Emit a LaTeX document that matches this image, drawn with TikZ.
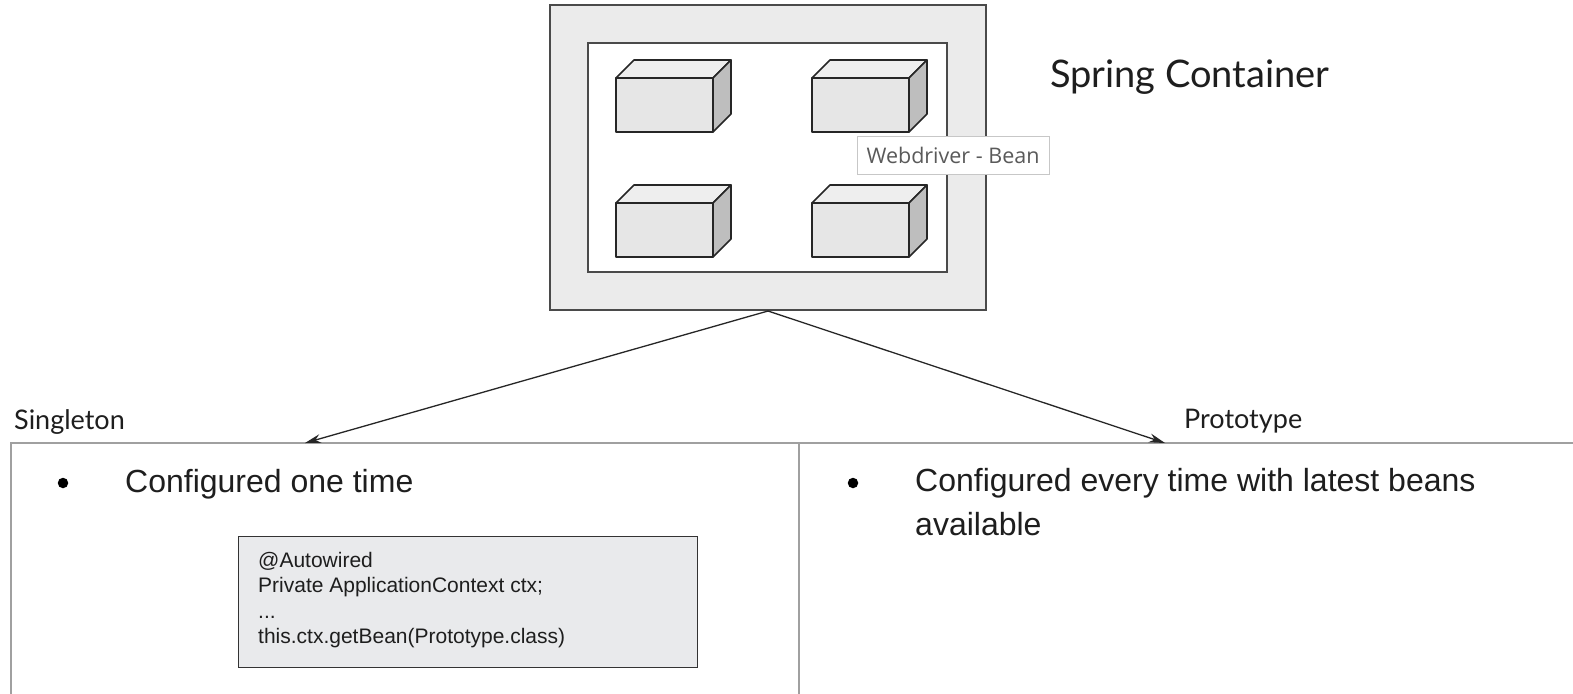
\documentclass[tikz,border=0pt]{standalone}
\usepackage{fontspec}
\setmainfont{Liberation Sans}
\newfontfamily\latofont{Lato}
\newfontfamily\opensansfont{Open Sans}
\usetikzlibrary{arrows.meta}
\definecolor{framegray}{HTML}{4A4A4A}
\definecolor{outerfill}{HTML}{EBEBEB}
\definecolor{cubefront}{HTML}{E6E6E6}
\definecolor{cubetop}{HTML}{EEEEEE}
\definecolor{cubeside}{HTML}{BEBEBE}
\definecolor{codefill}{HTML}{E9EAEC}
\definecolor{panelgray}{HTML}{A0A0A0}
\definecolor{textdark}{HTML}{1E1E1E}
\definecolor{labelgray}{HTML}{5A5A5A}
\newcommand\beancube[2]{%
  \filldraw[cubeedge,fill=cubefront] (#1,#2) rectangle ++(97,54);
  \filldraw[cubeedge,fill=cubetop] (#1,#2) -- ++(18,-18) -- ++(97,0) -- ++(-18,18) -- cycle;
  \filldraw[cubeedge,fill=cubeside] (#1+97,#2) -- ++(18,-18) -- ++(0,54) -- ++(-18,18) -- cycle;
}
\begin{document}
\begin{tikzpicture}[x=1pt,y=-1pt,
  frame/.style={draw=framegray,line width=2pt},
  cubeedge/.style={draw=black!85,line width=1.6pt,line join=round},
  panel/.style={draw=panelgray,line width=1.4pt},
  arrowline/.style={draw=black!85,line width=1.3pt,-{Stealth[length=16pt,width=9pt]}},
  lbl/.style={inner sep=0pt,anchor=base west,text=textdark},
  bullet/.style={circle,fill=black,inner sep=0pt,minimum size=10.5pt}
]
\useasboundingbox (0,0) rectangle (1573,693);
\fill[white] (0,0) rectangle (1573,693);

% container
\node[frame,fill=outerfill,minimum width=436pt,minimum height=305pt,inner sep=0pt] (container) at (768,157.5) {};
\node[frame,fill=white,minimum width=359pt,minimum height=229pt,inner sep=0pt] (inner) at (767.5,157.5) {};

\beancube{616}{78}
\beancube{812}{78}
\beancube{616}{203}
\beancube{812}{203}

\node[draw=black!22,line width=0.8pt,fill=white,minimum width=192pt,minimum height=38pt,inner sep=0pt,
  text=labelgray,font=\opensansfont\fontsize{21.5}{23}\selectfont] (webdriver) at (953,155) {Webdriver - Bean};

\node[lbl,font=\latofont\fontsize{38}{40}\selectfont] (springlbl) at (1050,87) {Spring Container};

% panels
\draw[panel] (11,700) -- (11,443) -- (1580,443);
\draw[panel] (799,443) -- (799,700);

\node[lbl,font=\latofont\fontsize{27}{29}\selectfont] (singlbl) at (14,429) {Singleton};
\node[lbl,font=\latofont\fontsize{27}{29}\selectfont] (protolbl) at (1184,428) {Prototype};

\coordinate (singtip) at (305,443);
\coordinate (prototip) at (1165,443);
\draw[arrowline] (container.south) -- (singtip);
\draw[arrowline] (container.south) -- (prototip);

% singleton content
\node[bullet] (b1) at (63,483) {};
\node[lbl,font=\fontsize{32}{44}\selectfont] (singtext) at (125,492) {Configured one time};

\node[draw=black!80,line width=1.4pt,fill=codefill,minimum width=459pt,minimum height=131pt,inner sep=0pt] (codebox) at (468,602) {};
\node[lbl,align=left,anchor=north west,font=\fontsize{21}{25.3}\selectfont] (code) at (258,552)
  {@Autowired\\Private ApplicationContext ctx;\\...\\this.ctx.getBean(Prototype.class)};

% prototype content
\node[bullet] (b2) at (853,483) {};
\node[lbl,align=left,anchor=north west,font=\fontsize{32}{44}\selectfont] (prototext) at (915,468.5)
  {Configured every time with latest beans\\available};
\end{tikzpicture}
\end{document}
